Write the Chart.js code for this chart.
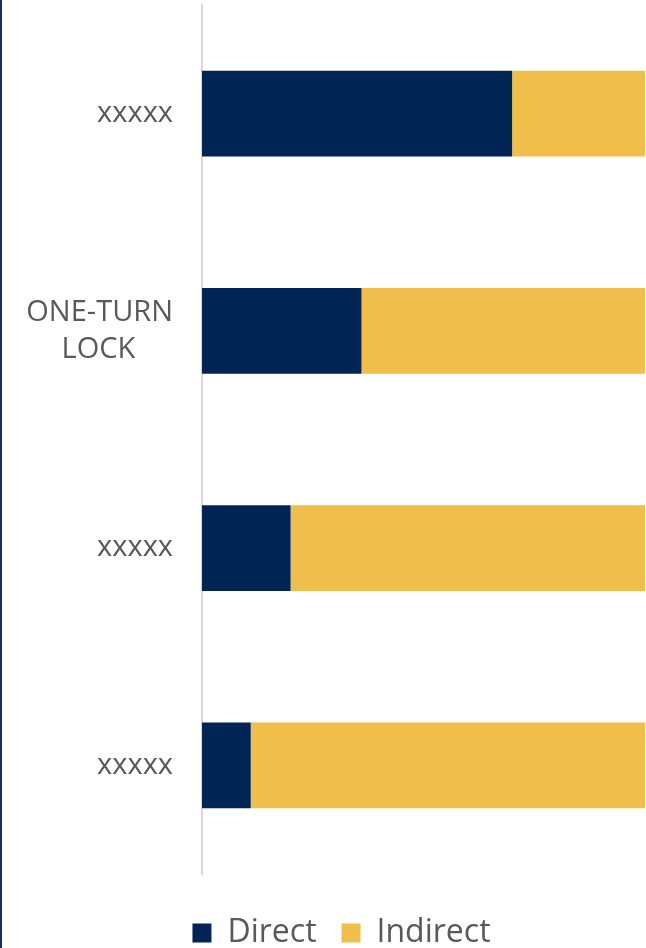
<!DOCTYPE html>
<html>
<head>
<meta charset="utf-8">
<script src="https://cdn.jsdelivr.net/npm/chart.js@4.4.0/dist/chart.umd.min.js"></script>
<style>
  html, body { margin: 0; padding: 0; background: #fff; overflow: hidden; }
  #wrap { position: relative; width: 646px; height: 959px; }
  #edge { position: absolute; left: 0; top: 0; width: 2px; height: 959px; background: #1b2a5c; }
</style>
</head>
<body>
<div id="wrap">
  <canvas id="chart"></canvas>
  <div id="edge"></div>
</div>
<script>
// trailing spaces keep the second line roughly centred under the first
const categories = ['xxxxx', ['ONE-TURN', 'LOCK     '], 'xxxxx', 'xxxxx'];
const directValues = [70, 36, 20, 11];
const indirectValues = [30, 64, 80, 89];

// nudge the legend so it sits where the original one does
const legendShift = {
  id: 'legendShift',
  afterLayout: function (chart) {
    chart.legend.left += 19;
    chart.legend.right += 19;
  }
};

const ctx = document.getElementById('chart').getContext('2d');

new Chart(ctx, {
  type: 'bar',
  data: {
    labels: categories,
    datasets: [{
      label: 'Direct',
      data: directValues,
      backgroundColor: '#002454',
    }, {
      label: 'Indirect',
      data: indirectValues,
      backgroundColor: '#F0BE4A',
    }]
  },
  options: {
    animation: false,
    responsive: true,
    maintainAspectRatio: false,
    indexAxis: 'y',
    categoryPercentage: 1,
    barPercentage: 0.395,
    layout: {
      padding: { top: 5, right: 1, left: 0, bottom: 0 }
    },
    plugins: {
      legend: {
        position: 'bottom',
        labels: {
          boxWidth: 19,
          boxHeight: 19,
          padding: 25,
          color: '#595959',
          font: { family: 'Open Sans', size: 32 }
        }
      },
      tooltip: { enabled: false }
    },
    scales: {
      x: {
        stacked: true,
        min: 0,
        max: 100,
        display: true,
        ticks: { display: false },
        grid: { display: false },
        border: { display: false },
        afterFit: function (scale) { scale.height = 18; }
      },
      y: {
        stacked: true,
        grid: { display: false },
        border: { display: true, color: '#d9d9d9', width: 2 },
        ticks: {
          padding: 21,
          color: '#595959',
          font: { family: 'Open Sans', size: 29, lineHeight: 1.27 }
        },
        afterFit: function (scale) {
          scale.width = 202;
          scale.paddingTop = 0;
          scale.paddingBottom = 0;
        }
      }
    }
  },
  plugins: [legendShift]
});
</script>
</body>
</html>
